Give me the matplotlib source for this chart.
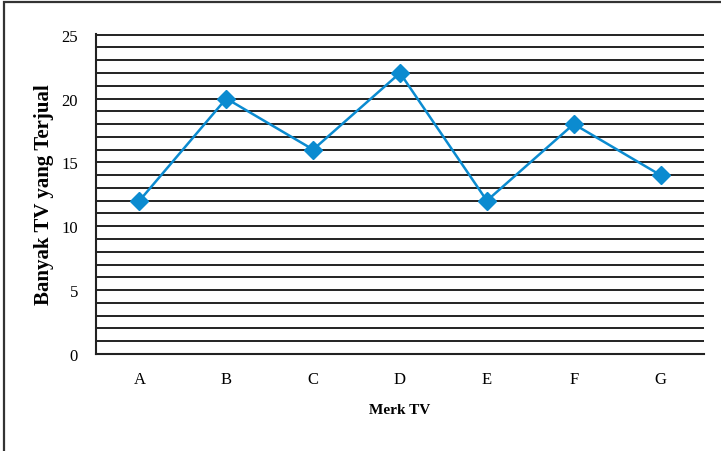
import matplotlib.pyplot as plt
from matplotlib.patches import Rectangle

merk = ['A', 'B', 'C', 'D', 'E', 'F', 'G']
terjual = [12, 20, 16, 22, 12, 18, 14]

plt.rcParams['font.family'] = ['Liberation Serif', 'DejaVu Serif']

fig = plt.figure(figsize=(7.21, 4.52), dpi=100)
ax = fig.add_axes([96 / 721, 1 - 355 / 452, 608 / 721, 320 / 452])

# outer frame, cut off at right and bottom like the scan
fig.patches.append(Rectangle((4 / 721, -0.1), 1.2, 1 - 3 / 452 + 0.1,
                             transform=fig.transFigure, fill=False,
                             edgecolor='#333333', linewidth=1.6))

for y in range(1, 26):
    ax.axhline(y, color='#111111', linewidth=1.3, zorder=1)

ax.plot(range(len(merk)), terjual, color='#0b8bd0', linewidth=1.8,
        marker='D', markersize=9, zorder=3)

ax.set_xlim(-0.5, 6.5)
ax.set_ylim(0, 25.05)
ax.set_yticks(range(0, 26, 5))
ax.set_xticks(range(len(merk)))
ax.set_xticklabels(merk)
ax.tick_params(length=0, labelsize=12, pad=12)
ax.tick_params(axis='y', pad=13)
for s in ['top', 'right']:
    ax.spines[s].set_visible(False)
for s in ['left', 'bottom']:
    ax.spines[s].set_linewidth(1.5)
    ax.spines[s].set_color('#222222')

ax.set_xlabel('Merk TV', fontsize=11, fontweight='bold', labelpad=12)
ax.set_ylabel('Banyak TV yang Terjual', fontsize=15, fontweight='bold', labelpad=5)

fig.savefig('out.png', dpi=100)
